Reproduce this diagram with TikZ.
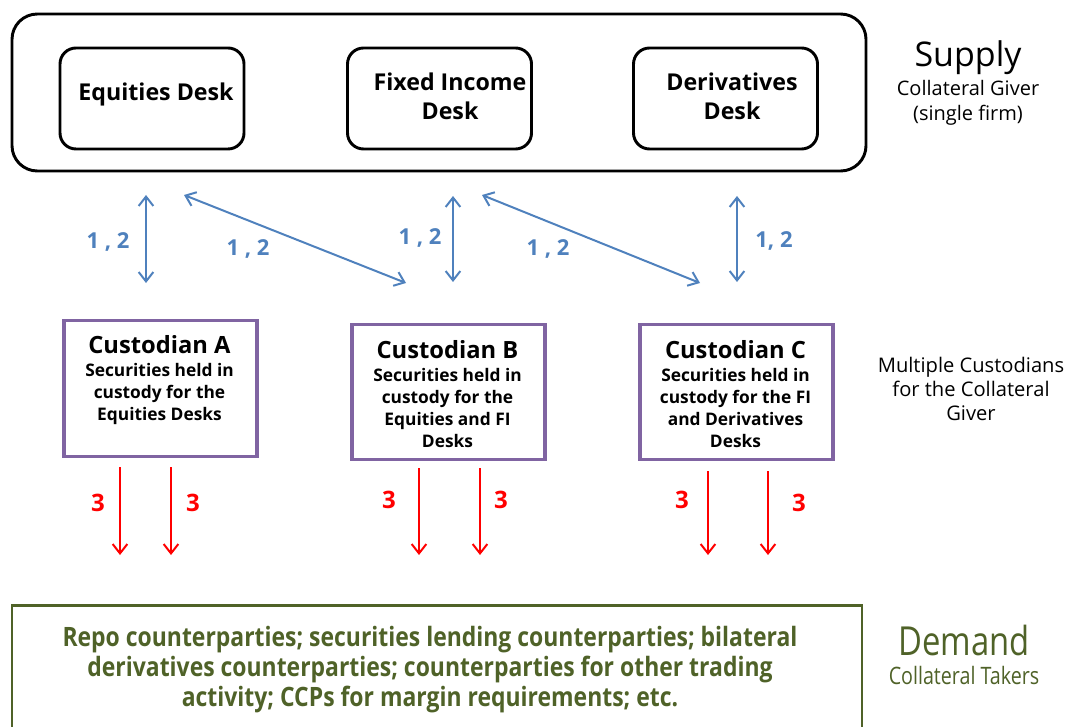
\documentclass[tikz,border=0pt]{standalone}
\usepackage{fontspec}
\setmainfont{Open Sans}
\newfontfamily\cond[FakeStretch=0.86]{Open Sans}
\newfontfamily\condl[FakeStretch=0.82]{Open Sans}
\usetikzlibrary{arrows.meta}
\definecolor{blu}{RGB}{79,129,189}
\definecolor{purp}{RGB}{128,100,162}
\definecolor{grn}{RGB}{79,98,40}
\definecolor{rd}{RGB}{255,0,0}
\begin{document}
\begin{tikzpicture}[x=0.75pt,y=-0.75pt,
  outerbox/.style={draw, line width=2.2pt, rounded corners=19pt, inner sep=0pt},
  deskbox/.style={draw, line width=2.2pt, rounded corners=12pt, minimum width=138pt, minimum height=75.75pt, inner sep=0pt},
  desktxt/.style={align=center, inner sep=0pt, font=\bfseries\fontsize{17.4}{21.75}\selectfont},
  custbox/.style={draw=purp, line width=2.4pt, minimum width=144.75pt, minimum height=101.5pt, inner sep=0pt},
  custtxt/.style={align=center, inner sep=0pt, font=\bfseries\fontsize{13}{16.6}\selectfont},
  bluarrow/.style={draw=blu, line width=1.5pt, {Straight Barb[length=7pt,width=11pt]}-{Straight Barb[length=7pt,width=11pt]}},
  redarrow/.style={draw=rd, line width=1.5pt, -{Straight Barb[length=7pt,width=11pt]}},
  blulbl/.style={text=blu, font=\bfseries\fontsize{16.5}{18}\selectfont, inner sep=0pt},
  redlbl/.style={text=rd, font=\bfseries\fontsize{18}{20}\selectfont, inner sep=0pt},
  sidetxt/.style={align=center, inner sep=0pt}
]
\useasboundingbox (0,0) rectangle (1066,727);
\clip (0,0) rectangle (1066,727);

% supply
\node[outerbox, minimum width=640.5pt, minimum height=117.75pt] (supply) at (439,92.5) {};
\node[deskbox] (eq) at (152,98.5) {};
\node[deskbox] (fi) at (439.5,98.5) {};
\node[deskbox] (der) at (725.5,98.5) {};
\node[desktxt] (eqt) at (156,94.5) {Equities Desk};
\node[desktxt] (fit) at (450,96.5) {Fixed Income\\Desk};
\node[desktxt] (dert) at (732,96.5) {Derivatives\\Desk};

\node[sidetxt, font=\fontsize{25.5}{28}\selectfont] (supplylbl) at (968,58) {Supply};
\node[sidetxt, font=\fontsize{15}{18.75}\selectfont] (giver) at (968,102.5) {Collateral Giver\\(single firm)};

% custodians
\node[custbox] (custA) at (160.5,388.5) {};
\node[custbox] (custB) at (448.5,392) {};
\node[custbox] (custC) at (736.5,392) {};

\node[custtxt] (custAt) at (159.5,380) {{\fontsize{17.8}{18}\selectfont Custodian A}\\[1pt]Securities held in\\custody for the\\Equities Desks};
\node[custtxt] (custBt) at (447.5,394) {{\fontsize{17.8}{18}\selectfont Custodian B}\\[1pt]Securities held in\\custody for the\\Equities and FI\\Desks};
\node[custtxt] (custCt) at (735.5,394) {{\fontsize{17.8}{18}\selectfont Custodian C}\\[1pt]Securities held in\\custody for the FI\\and Derivatives\\Desks};

\node[sidetxt, font=\fontsize{15.1}{18}\selectfont] (multi) at (971,389) {Multiple Custodians\\for the Collateral\\Giver};

% blue arrow endpoints
\coordinate (b1t) at (146,195);  \coordinate (b1b) at (146,283);
\coordinate (d1t) at (184,195);  \coordinate (d1b) at (406,283);
\coordinate (b2t) at (453,196);  \coordinate (b2b) at (453,282);
\coordinate (d2t) at (482,195);  \coordinate (d2b) at (700,283);
\coordinate (b3t) at (737,196);  \coordinate (b3b) at (737,282);

\draw[bluarrow] (b1t) -- (b1b);
\draw[bluarrow] (d1t) -- (d1b);
\draw[bluarrow] (b2t) -- (b2b);
\draw[bluarrow] (d2t) -- (d2b);
\draw[bluarrow] (b3t) -- (b3b);

\node[blulbl] (l1) at (108,242) {1 , 2};
\node[blulbl] (l2) at (248,249) {1 , 2};
\node[blulbl] (l3) at (420,238) {1 , 2};
\node[blulbl] (l4) at (548,249) {1 , 2};
\node[blulbl] (l5) at (774,241) {1, 2};

% red arrows
\coordinate (ra1t) at (120,467); \coordinate (ra1b) at (120,555);
\coordinate (ra2t) at (171,467); \coordinate (ra2b) at (171,555);
\coordinate (rb1t) at (419,468); \coordinate (rb1b) at (419,555);
\coordinate (rb2t) at (480,468); \coordinate (rb2b) at (480,555);
\coordinate (rc1t) at (708,471); \coordinate (rc1b) at (708,555);
\coordinate (rc2t) at (768,471); \coordinate (rc2b) at (768,555);

\draw[redarrow] (ra1t) -- (ra1b);
\draw[redarrow] (ra2t) -- (ra2b);
\draw[redarrow] (rb1t) -- (rb1b);
\draw[redarrow] (rb2t) -- (rb2b);
\draw[redarrow] (rc1t) -- (rc1b);
\draw[redarrow] (rc2t) -- (rc2b);

\node[redlbl] (n1) at (98,503) {3};
\node[redlbl] (n2) at (193,503) {3};
\node[redlbl] (n3) at (389,500) {3};
\node[redlbl] (n4) at (501,500) {3};
\node[redlbl] (n5) at (682,500) {3};
\node[redlbl] (n6) at (799,503) {3};

% demand
\node[draw=grn, line width=2.2pt, minimum width=637.5pt, minimum height=116pt, inner sep=0pt] (demand) at (437,682.5) {};
\node[align=center, text=grn, inner sep=0pt, font=\cond\bfseries\fontsize{20}{22.5}\selectfont] (demandt) at (430,670) {Repo counterparties; securities lending counterparties; bilateral\\derivatives counterparties; counterparties for other trading\\activity; CCPs for margin requirements; etc.};

\node[sidetxt, text=grn, font=\condl\fontsize{30}{32}\selectfont] (demandlbl) at (964,640) {Demand};
\node[sidetxt, text=grn, font=\condl\fontsize{18}{20}\selectfont] (takers) at (964,675) {Collateral Takers};
\end{tikzpicture}
\end{document}
